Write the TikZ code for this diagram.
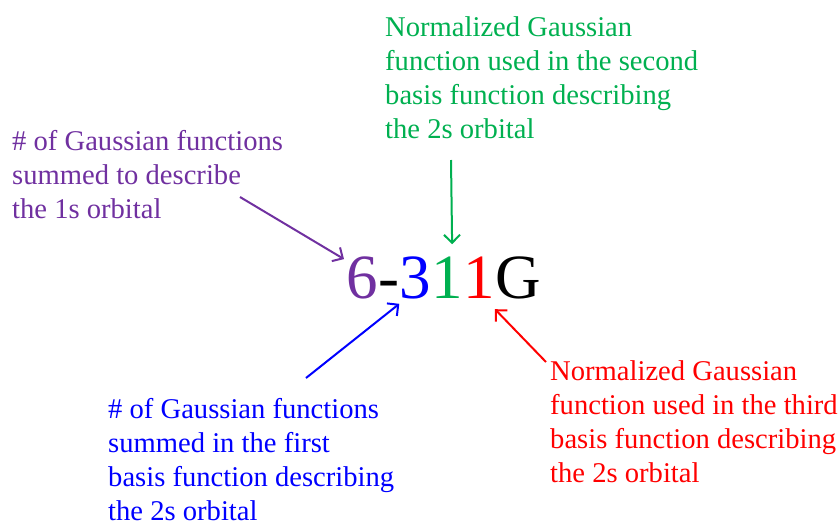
\documentclass[tikz,border=0pt]{standalone}
\usepackage{fontspec}
\setmainfont{Liberation Serif}
\usetikzlibrary{positioning,arrows.meta}
\definecolor{sixpurple}{HTML}{7030A0}
\definecolor{onegreen}{HTML}{00B050}
\tikzset{
  note/.style={inner sep=0pt,align=left,anchor=base west,font=\fontsize{28.6}{34}\selectfont},
  digit/.style={inner sep=0pt,font=\fontsize{63}{70}\selectfont},
  ptr/.style={line width=2pt,-{Straight Barb[length=8pt,width=16pt]}}
}

\begin{document}
\begin{tikzpicture}[x=1pt,y=-1pt]
  \useasboundingbox (0,0) rectangle (840,525);
  % basis set name
  \node[digit,sixpurple,anchor=base west] (six) at (346,298) {6};
  \node[digit,base right=0pt of six] (dash) {-};
  \node[digit,blue,base right=0pt of dash] (three) {3};
  \node[digit,onegreen,base right=0pt of three] (oneA) {1};
  \node[digit,red,base right=0pt of oneA] (oneB) {1};
  \node[digit,base right=0pt of oneB] (gee) {G};
  % notes (placed at the baseline of their last line)
  \node[note,sixpurple] (lab1s) at (12,218) {\# of Gaussian functions\\summed to describe\\the 1s orbital};
  \node[note,onegreen] (lab2b) at (385,138) {Normalized Gaussian\\function used in the second\\basis function describing\\the 2s orbital};
  \node[note,blue] (lab2a) at (108,520) {\# of Gaussian functions\\summed in the first\\basis function describing\\the 2s orbital};
  \node[note,red] (lab2c) at (550,482) {Normalized Gaussian\\function used in the third\\basis function describing\\the 2s orbital};
  \coordinate (t1s) at (240,197);
  \coordinate (t2a) at (306,378);
  \coordinate (t2b) at (451,160);
  \coordinate (t2c) at (546,362);
  \draw[ptr,sixpurple] (t1s) -- ([xshift=-2pt,yshift=-3pt]six.north west);
  \draw[ptr,onegreen] (t2b) -- ([xshift=5pt,yshift=12pt]oneA.north);
  \draw[ptr,blue] (t2a) -- ([yshift=-5pt]three.south west);
  \draw[ptr,red] (t2c) -- ([yshift=-11pt]oneB.south east);
\end{tikzpicture}
\end{document}
